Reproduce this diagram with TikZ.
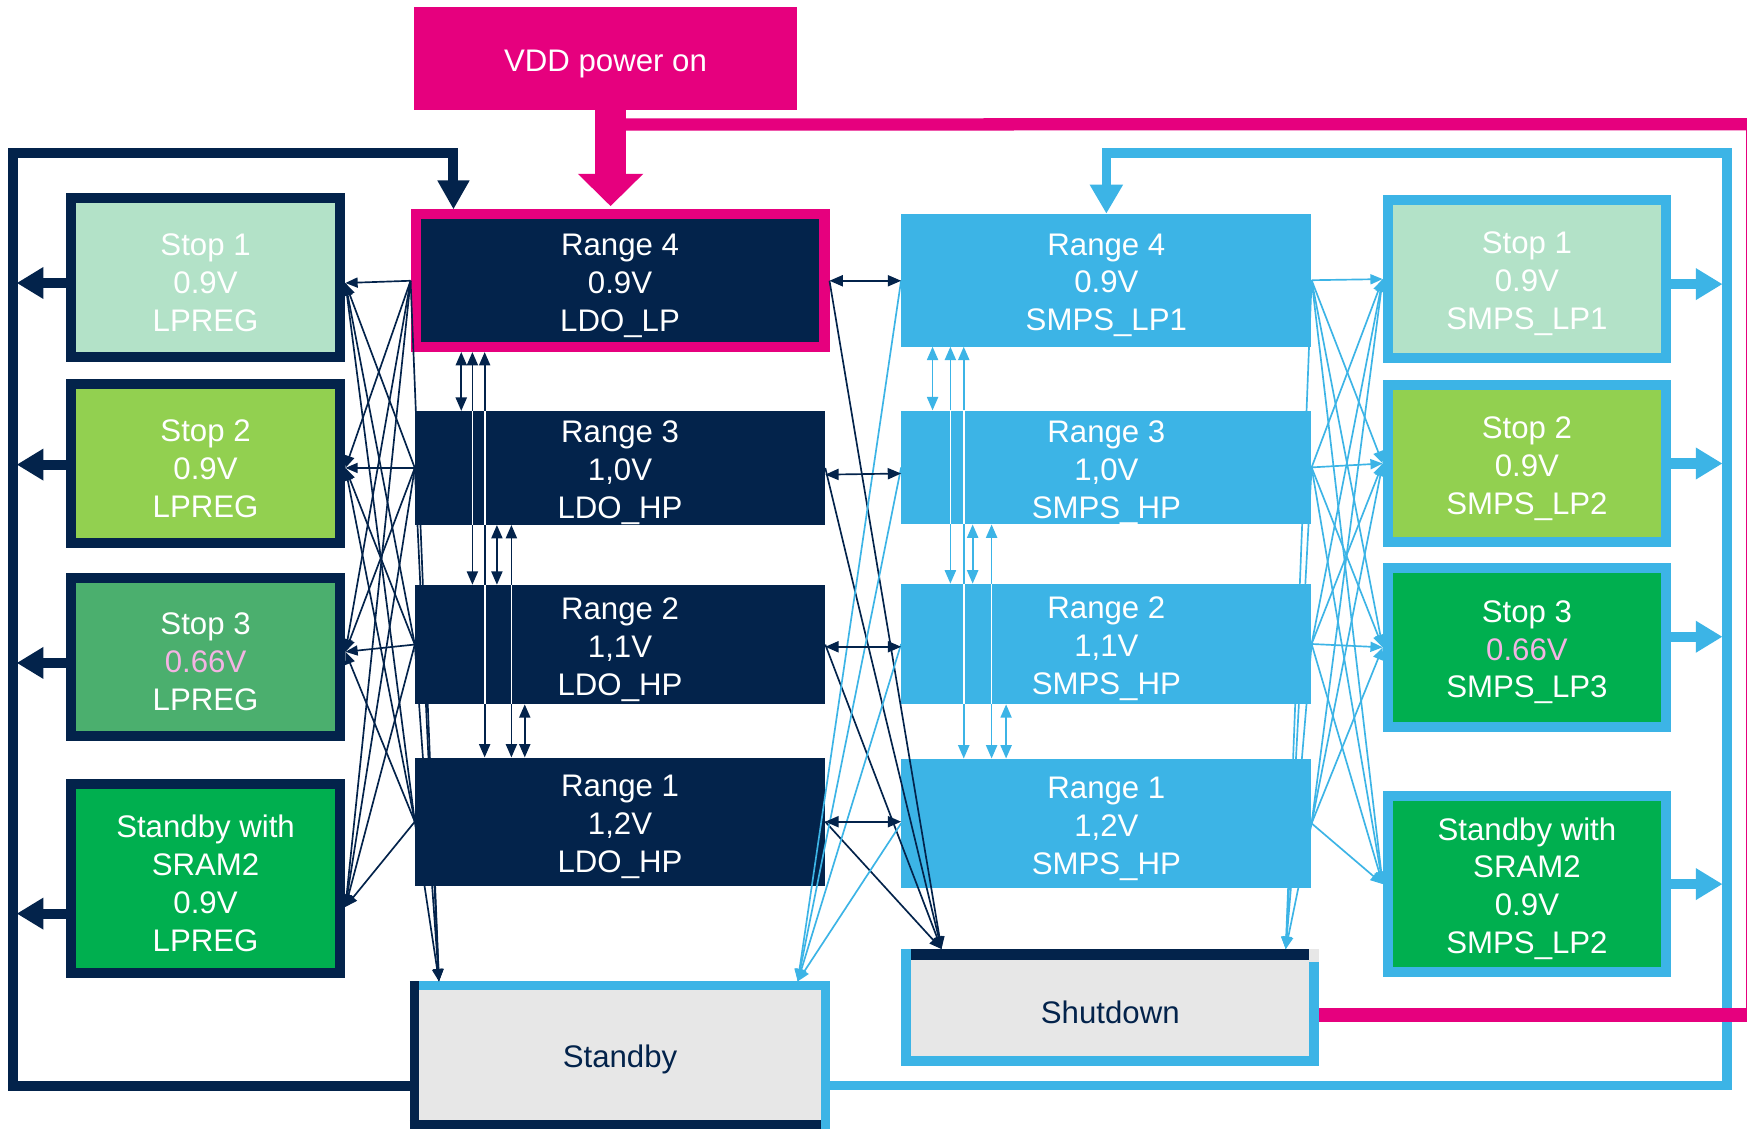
\documentclass[tikz,border=0pt]{standalone}
\usepackage{fontspec}
\setmainfont{Liberation Sans}
\usetikzlibrary{arrows.meta}
\definecolor{navy}{HTML}{03234B}
\definecolor{lblue}{HTML}{3CB4E6}
\definecolor{mag}{HTML}{E6007E}
\definecolor{mint}{HTML}{B3E2C8}
\definecolor{lime}{HTML}{92D050}
\definecolor{midgreen}{HTML}{4BAF6E}
\definecolor{sgreen}{HTML}{00AF4F}
\definecolor{lgray}{HTML}{E7E7E7}
\definecolor{pinktxt}{HTML}{F4B3E3}
\newcommand\tup{\rule{0pt}{28.5pt}}
\begin{document}
\begin{tikzpicture}[x=1pt,y=-1pt,
  txt/.style={text=white,font=\fontsize{28}{34}\selectfont,align=center,inner sep=0pt},
  lstop/.style={txt,draw=navy,line width=9pt,minimum width=242pt},
  rstop/.style={txt,draw=lblue,line width=9pt,minimum width=250pt},
  ldo/.style={txt,fill=navy,minimum width=368pt},
  smps/.style={txt,fill=lblue,minimum width=368pt},
  fanN/.style={navy,line width=1.5pt,-{Triangle[length=11pt,width=9pt]}},
  fanB/.style={lblue,line width=1.5pt,-{Triangle[length=11pt,width=9pt]}},
  biN/.style={navy,line width=1.5pt,{Triangle[length=12pt,width=10pt]}-{Triangle[length=12pt,width=10pt]}},
  biB/.style={lblue,line width=1.5pt,{Triangle[length=12pt,width=10pt]}-{Triangle[length=12pt,width=10pt]}},
  thru/.style={white,line width=1.5pt},
  fatN/.style={navy,line width=9pt,-{Triangle[length=24pt,width=27pt]}},
  fatB/.style={lblue,line width=9pt,-{Triangle[length=24pt,width=27pt]}}
]
\useasboundingbox (0,0) rectangle (1568,1014);
\fill[white] (0,0) rectangle (1568,1014);

% ---- nodes
\node[txt,fill=mag,minimum width=343pt,minimum height=93pt] (vdd) at (543.5,52.5) {\tup VDD power on};

\node[lstop,fill=mint,minimum height=143pt] (ls1) at (184.5,249) {\tup Stop 1\\0.9V\\LPREG};
\node[lstop,fill=lime,minimum height=143pt] (ls2) at (184.5,416) {\tup Stop 2\\0.9V\\LPREG};
\node[lstop,fill=midgreen,minimum height=142pt] (ls3) at (184.5,589.5) {\tup Stop 3\\\textcolor{pinktxt}{0.66V}\\LPREG};
\node[lstop,fill=sgreen,minimum height=170pt] (ls4) at (184.5,788.5) {\tup Standby with\\SRAM2\\0.9V\\LPREG};

\node[ldo,draw=mag,line width=9pt,minimum width=367pt,minimum height=119pt] (lr4) at (556.5,252) {\tup Range 4\\0.9V\\LDO\_LP};
\node[ldo,minimum height=98pt] (lr3) at (556.5,420) {\tup Range 3\\1,0V\\LDO\_HP};
\node[ldo,minimum height=107pt] (lr2) at (556.5,578.5) {\tup Range 2\\1,1V\\LDO\_HP};
\node[ldo,minimum height=115pt] (lr1) at (556.5,737.5) {\tup Range 1\\1,2V\\LDO\_HP};

\node[smps,minimum height=119pt] (sr4) at (993,251.5) {\tup Range 4\\0.9V\\SMPS\_LP1};
\node[smps,minimum height=101pt] (sr3) at (993,419.5) {\tup Range 3\\1,0V\\SMPS\_HP};
\node[smps,minimum height=108pt] (sr2) at (993,578) {\tup Range 2\\1,1V\\SMPS\_HP};
\node[smps,minimum height=116pt] (sr1) at (993,739) {\tup Range 1\\1,2V\\SMPS\_HP};

\node[rstop,fill=mint,minimum height=142pt] (rs1) at (1370.5,250.5) {\tup Stop 1\\0.9V\\SMPS\_LP1};
\node[rstop,fill=lime,minimum height=141pt] (rs2) at (1370.5,416) {\tup Stop 2\\0.9V\\SMPS\_LP2};
\node[rstop,fill=sgreen,minimum height=143pt] (rs3) at (1370.5,581) {\tup Stop 3\\\textcolor{pinktxt}{0.66V}\\SMPS\_LP3};
\node[rstop,fill=sgreen,minimum height=158pt] (rs4) at (1370.5,793.5) {\tup Standby with\\SRAM2\\0.9V\\SMPS\_LP2};

\node[txt,text=navy,fill=lgray,minimum width=377pt,minimum height=132pt] (standby) at (556.5,947) {\tup Standby};
\node[txt,text=navy,fill=lgray,minimum width=375pt,minimum height=105pt] (shutdown) at (996.5,904.5) {\tup Shutdown};

% ---- borders of Standby and Shutdown
\draw[lblue,line width=8pt] ([yshift=-4pt]standby.north west) -- ([yshift=-4pt]standby.north east);
\draw[lblue,line width=8pt] ([xshift=-4pt]standby.north east) -- ([xshift=-4pt]standby.south east);
\draw[navy,line width=8pt] ([xshift=4pt]standby.north west) -- ([xshift=4pt]standby.south west);
\draw[navy,line width=8pt] ([yshift=4pt]standby.south west) -- ([xshift=-8pt,yshift=4pt]standby.south east);

\draw[lblue,line width=9pt] ([xshift=4.5pt]shutdown.north west) -- ([xshift=4.5pt]shutdown.south west);
\draw[lblue,line width=9pt] ([yshift=4.5pt]shutdown.south west) -- ([yshift=4.5pt]shutdown.south east);
\draw[lblue,line width=9pt] ([xshift=-4.5pt,yshift=-12pt]shutdown.north east) -- ([xshift=-4.5pt]shutdown.south east);
\draw[navy,line width=10pt] ([xshift=9pt,yshift=-5pt]shutdown.north west) -- ([xshift=-9pt,yshift=-5pt]shutdown.north east);

% ---- fan connectors
\foreach \r in {lr4,lr3,lr2,lr1}{
  \draw[fanN] (\r.west) -- ([yshift=-5pt]ls1.east);
  \draw[fanN] (\r.west) -- ([yshift=-4pt]ls2.east);
  \draw[fanN] (\r.west) -- ([yshift=4.5pt]ls3.east);
  \draw[fanN] (\r.west) -- ([yshift=-25.5pt]ls4.east);
  \draw[fanN] (\r.west) -- ([xshift=-162.5pt]standby.north);
  \draw[fanN] (\r.east) -- ([xshift=-151.5pt]shutdown.north);
}
\foreach \r in {sr4,sr3,sr2,sr1}{
  \foreach \s in {rs1,rs2,rs3,rs4}{\draw[fanB] (\r.east) -- (\s.west);}
  \draw[fanB] (\r.west) -- ([xshift=159.5pt]standby.north);
  \draw[fanB] (\r.east) -- ([xshift=157.5pt]shutdown.north);
}

% ---- vertical bidirectional arrows
\foreach \a/\b/\dx in {lr4/lr3/-142.5,lr4/lr2/-132.5,lr4/lr1/-121.5,lr3/lr2/-110.5,lr3/lr1/-97.5,lr2/lr1/-85.5}{
  \draw[biN] ([xshift=\dx pt]\a.south) -- ([xshift=\dx pt]\b.north);
}
\foreach \b/\dx in {lr3/-132.5,lr3/-121.5,lr2/-121.5,lr2/-97.5}{
  \draw[thru] ([xshift=\dx pt]\b.north) -- ([xshift=\dx pt]\b.south);
}
\foreach \a/\b/\dx in {sr4/sr3/-156,sr4/sr2/-140,sr4/sr1/-128,sr3/sr2/-120,sr3/sr1/-103,sr2/sr1/-90}{
  \draw[biB] ([xshift=\dx pt]\a.south) -- ([xshift=\dx pt]\b.north);
}
\foreach \b/\dx in {sr3/-140,sr3/-128,sr2/-128,sr2/-103}{
  \draw[thru] ([xshift=\dx pt]\b.north) -- ([xshift=\dx pt]\b.south);
}

% ---- horizontal bidirectional arrows
\draw[biN] (lr4.east) -- (lr4.east -| sr4.west);
\draw[biN] ([yshift=-6pt]lr3.east) -- ([yshift=-5.5pt]sr3.west);
\draw[biN] ([yshift=-2pt]lr2.east) -- ([yshift=-2.5pt]sr2.west);
\draw[biN] (lr1.east) -- (lr1.east -| sr1.west);

% ---- loops
\draw[navy,line width=9pt,-{Triangle[length=26pt,width=27pt]}] ([yshift=-28pt]standby.west) -| (11.5,137.5) -| ([xshift=-149.5pt]lr4.north);
\draw[lblue,line width=8.5pt,-{Triangle[length=26pt,width=28pt]}] ([yshift=-27.5pt]standby.east) -| (1550,137.5) -| (sr4.north);

\draw[fatN] ([yshift=-5pt]ls1.west) -- ++(-44,0);
\draw[fatN] ([yshift=-1pt]ls2.west) -- ++(-44,0);
\draw[fatN] ([yshift=-5.5pt]ls3.west) -- ++(-44,0);
\draw[fatN] ([yshift=-31.5pt]ls4.west) -- ++(-44,0);
\draw[fatB] ([yshift=-4.5pt]rs1.east) -- ++(46,0);
\draw[fatB] (rs2.east) -- ++(46,0);
\draw[fatB] ([yshift=9.5pt]rs3.east) -- ++(46,0);
\draw[fatB] (rs4.east) -- ++(46,0);

% ---- magenta
\draw[mag,line width=28pt,-{Triangle[length=29pt,width=57pt]}] ([xshift=4.5pt,yshift=1pt]vdd.south) -- ([xshift=-8.5pt,yshift=3pt]lr4.north);
\draw[mag,line width=11pt] ([xshift=4.5pt,yshift=-12.5pt]vdd.south) -- (1570,111.5);
\draw[mag,line width=12pt] ([yshift=-6.5pt]shutdown.east) -- (1570,911);
\draw[mag,line width=1.5pt] (1567.5,111.5) -- (1567.5,911);
\end{tikzpicture}
\end{document}
